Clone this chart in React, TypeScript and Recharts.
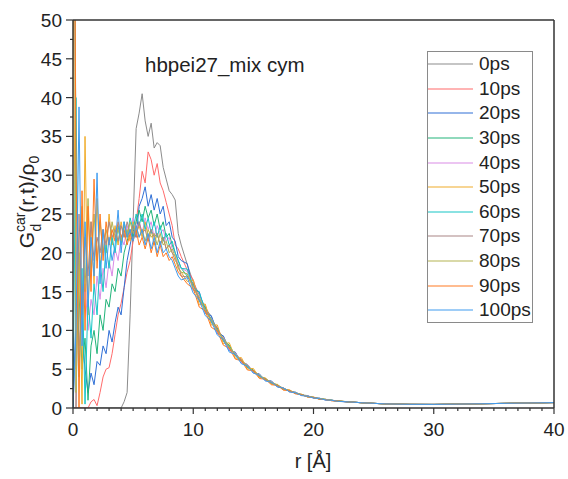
import { LineChart, Line, XAxis, YAxis, Legend } from "recharts";

const FONT = '"Liberation Sans", Arial, sans-serif';
const AXIS = "#333333";

// r grid (Å)
const R_EARLY = [0, 0.25, 0.5, 0.75, 1, 1.25, 1.5, 1.75, 2, 2.25, 2.5, 2.75, 3, 3.25, 3.5, 3.75, 4, 4.25, 4.5,
  4.75, 5, 5.25, 5.5, 5.75, 6, 6.25, 6.5, 6.75, 7, 7.25, 7.5, 7.75, 8, 8.25, 8.5, 8.75, 9];
const R_TAIL = [9.5, 10, 10.5, 11, 11.5, 12, 12.5, 13, 13.5, 14, 14.5, 15, 15.5, 16, 16.5, 17, 17.5, 18, 18.5,
  19, 19.5, 20, 20.5, 21, 21.5, 22];
const R_FAR = [23, 24, 25, 26, 28, 30, 32, 34, 36, 38, 40];
const G_FAR = [0.78, 0.68, 0.6, 0.53, 0.47, 0.46, 0.5, 0.55, 0.6, 0.65, 0.7];

// early part, r = 0 .. 9
const G0 = [0, 0, 0, 0, 0, 0, 0, 0, 0, 0, 0, 0, 0, 0, 0, 0, 0, 0.8, 2, 12, 24, 36, 38, 40.5, 37, 35, 36.7, 33.5,
  34.2, 33.8, 31, 29.5, 28, 27.5, 26.8, 22.5, 21];
const G10 = [0, 0, 0, 0, 0, 0, 0.8, 1.1, 0.3, 2, 4, 5, 5.2, 7, 9.5, 12, 13.5, 15.5, 17.5, 19, 21.5, 24, 27, 30.5,
  29, 33, 32, 30, 31.5, 29, 28, 26.5, 25, 23.5, 21, 20.5, 19.5];
const G20 = [0, 12, 20, 10, 5, 2, 4.5, 3, 6, 5.5, 8, 7, 10, 8.5, 11, 13, 12, 15.5, 19, 21, 23, 22, 26, 27, 28.5,
  26, 27.5, 25.5, 27, 25, 26, 23.5, 24, 22, 21.5, 19.5, 19];
const G30 = [110, 30, 15, 5, 9, 1, 8, 10, 7, 12, 10, 14, 13, 16, 15, 18, 17, 20, 21.5, 23, 22, 24, 25.5, 24, 26,
  24.5, 25.5, 23.5, 25, 23, 24, 22, 22.5, 21, 20, 19, 18];
const G40 = [130, 22, 8, 12, 16, 10, 14, 12, 17, 14, 18, 15.5, 19, 17, 20.5, 19, 22, 21, 23.5, 22, 24.5, 23, 24,
  22.5, 24.5, 23, 24, 22, 23.5, 22.5, 23, 21.5, 22, 20.5, 20, 18.5, 18];
const G50 = [60, 5, 20, 0.5, 35, 12, 24, 16, 27, 18, 23, 20, 25, 21, 23.5, 21, 24, 22, 23, 21.5, 24, 22.5, 23.5,
  22, 24, 22, 23, 21, 22.5, 21, 22, 20.5, 21, 20, 19.5, 18, 17.5];
const G60 = [0, 40, 4, 18, 0.5, 14, 9, 16, 12, 19, 15, 21, 18, 22, 20, 23.5, 21, 24, 22, 24.5, 23, 25, 23.5, 25,
  23, 24.5, 22.5, 24, 22, 23.5, 21.5, 22.5, 21, 21.5, 20, 19, 18];
const G70 = [200, 0, 25, 12, 22, 17, 24, 19, 22, 20, 23, 21, 24, 22, 23, 21.5, 23.5, 22, 24, 22.5, 23.5, 22, 24,
  22.5, 23, 21.5, 23, 22, 22.5, 21, 22, 20.5, 21, 20, 19, 18.5, 17];
const G80 = [150, 2, 18, 26, 15, 27, 17, 25, 19, 24, 20, 23, 21, 24, 22, 23, 21.5, 23.5, 22, 24, 22.5, 23.5, 22,
  23, 21.5, 23, 22, 22.5, 21, 22.5, 21, 21.5, 20, 20.5, 19.5, 18, 17.5];
const G90 = [90, 32, 0, 28, 10, 26, 15, 29.5, 18, 25, 19, 24, 21, 23, 21.5, 24, 22, 23, 21, 22.5, 21.5, 23, 21,
  22, 20.5, 22, 20, 21.5, 19.5, 21, 19.5, 20, 19, 19.5, 18.5, 17.5, 17];
const G100 = [0, 10, 38.8, 8, 24, 13, 22, 17, 30.3, 16, 23, 18, 22, 19, 21, 25.5, 20, 24, 22, 23, 21.5, 23.5, 22,
  23, 21, 22.5, 20.5, 22, 20, 21.5, 20, 20.5, 19.5, 19, 18, 17, 16.5];

// decay, r = 9.5 .. 22
const T0 = [18.5, 16.2, 14.6, 12.9, 11.8, 10, 9.2, 7.7, 7.1, 6, 5.6, 4.7, 4.3, 3.6, 3.4, 2.8, 2.6, 2.1, 2, 1.7,
  1.6, 1.3, 1.25, 1.05, 1, 0.85];
const T10 = [17.8, 16.5, 14, 13.2, 11.2, 10.4, 8.7, 8, 6.8, 6.3, 5.3, 4.9, 4.1, 3.8, 3.2, 3, 2.4, 2.3, 1.9, 1.75,
  1.45, 1.4, 1.15, 1.1, 0.95, 0.9];
const T20 = [18.6, 15.2, 15, 12.2, 11.9, 9.6, 9.3, 7.4, 7.2, 5.8, 5.6, 4.5, 4.4, 3.5, 3.5, 2.7, 2.6, 2.1, 2.05, 1.6,
  1.58, 1.28, 1.27, 1.03, 1.03, 0.87];
const T30 = [17, 16, 13.8, 13, 11, 10.3, 8.6, 8.1, 6.7, 6.2, 5.2, 4.9, 4, 3.8, 3.2, 3, 2.45, 2.25, 1.9, 1.75,
  1.45, 1.38, 1.15, 1.12, 0.97, 0.92];
const T40 = [17.6, 15.2, 14.5, 12.3, 11.6, 9.7, 9.1, 7.5, 7.1, 5.8, 5.6, 4.6, 4.3, 3.6, 3.4, 2.8, 2.6, 2.1, 2, 1.65,
  1.55, 1.3, 1.22, 1.06, 1, 0.87];
const T50 = [16.3, 16.5, 13.3, 13.4, 10.7, 10.7, 8.3, 8.4, 6.4, 6.5, 5, 5.1, 3.9, 3.9, 3.05, 3.05, 2.35, 2.35, 1.87,
  1.78, 1.43, 1.42, 1.13, 1.13, 0.95, 0.94];
const T60 = [17.9, 15.6, 14.9, 12.6, 11.5, 10, 8.9, 7.9, 6.9, 6, 5.4, 4.7, 4.2, 3.7, 3.3, 2.9, 2.5, 2.2, 1.95, 1.7,
  1.5, 1.35, 1.2, 1.1, 1, 0.9];
const T70 = [16.9, 15.9, 13.9, 12.7, 11.3, 10.2, 8.8, 7.7, 6.8, 6.1, 5.3, 4.8, 4.1, 3.7, 3.25, 2.9, 2.5, 2.2, 1.93,
  1.7, 1.5, 1.33, 1.2, 1.08, 0.99, 0.9];
const T80 = [17.3, 15.4, 14.3, 12.4, 11.4, 9.9, 9, 7.8, 7, 6, 5.5, 4.7, 4.25, 3.65, 3.35, 2.85, 2.55, 2.15, 1.98,
  1.68, 1.52, 1.32, 1.22, 1.08, 1.01, 0.89];
const T90 = [16, 15.4, 13, 12.5, 10.4, 9.9, 8.1, 7.7, 6.3, 6.1, 4.9, 4.8, 3.8, 3.7, 3, 2.9, 2.3, 2.25, 1.82,
  1.72, 1.42, 1.36, 1.12, 1.1, 0.94, 0.9];
const T100 = [16.8, 14.8, 13.9, 11.9, 11.2, 9.4, 8.8, 7.2, 6.9, 5.7, 5.4, 4.5, 4.2, 3.5, 3.3, 2.75, 2.55, 2.1, 1.95,
  1.62, 1.5, 1.3, 1.2, 1.05, 0.99, 0.87];

const SERIES = [
  { name: "0ps", color: "#8c8c8c", early: G0, tail: T0 },
  { name: "10ps", color: "#ff6b6b", early: G10, tail: T10 },
  { name: "20ps", color: "#2f6fd6", early: G20, tail: T20 },
  { name: "30ps", color: "#22b47a", early: G30, tail: T30 },
  { name: "40ps", color: "#d98ce6", early: G40, tail: T40 },
  { name: "50ps", color: "#f0ac2a", early: G50, tail: T50 },
  { name: "60ps", color: "#16c6c6", early: G60, tail: T60 },
  { name: "70ps", color: "#a98585", early: G70, tail: T70 },
  { name: "80ps", color: "#b3b352", early: G80, tail: T80 },
  { name: "90ps", color: "#ff7a22", early: G90, tail: T90 },
  { name: "100ps", color: "#3f9cf0", early: G100, tail: T100 },
];

const X_TICKS = Array.from({ length: 41 }, (_, i) => i);
const Y_TICKS = Array.from({ length: 21 }, (_, i) => i * 2.5);

const toPoints = (early: number[], tail: number[]) => [
  ...R_EARLY.map((r, i) => ({ r, v: early[i] })),
  ...R_TAIL.map((r, i) => ({ r, v: tail[i] })),
  ...R_FAR.map((r, i) => ({ r, v: G_FAR[i] })),
];

const BottomTick = ({ x, y, payload }: any) => {
  const major = payload.value % 10 === 0;
  return (
    <g>
      <line x1={x} x2={x} y1={y} y2={y + (major ? 6 : 3)} stroke={AXIS} strokeWidth={1.2} />
      {major && (
        <text x={x} y={y + 28} textAnchor="middle" fontSize={19} fontFamily={FONT} fill="#222">
          {payload.value}
        </text>
      )}
    </g>
  );
};

const TopTick = ({ x, y, payload }: any) => {
  const major = payload.value % 10 === 0;
  return <line x1={x} x2={x} y1={y} y2={y + (major ? 6 : 3)} stroke={AXIS} strokeWidth={1.2} />;
};

const LeftTick = ({ x, y, payload }: any) => {
  const major = payload.value % 5 === 0;
  return (
    <g>
      <line x1={x} x2={x - (major ? 7 : 3)} y1={y} y2={y} stroke={AXIS} strokeWidth={1.2} />
      {major && (
        <text x={x - 11} y={y + 7} textAnchor="end" fontSize={19} fontFamily={FONT} fill="#222">
          {payload.value}
        </text>
      )}
    </g>
  );
};

const RightTick = ({ x, y, payload }: any) => {
  const major = payload.value % 5 === 0;
  return <line x1={x} x2={x - (major ? 7 : 3)} y1={y} y2={y} stroke={AXIS} strokeWidth={1.2} />;
};

const LegendBox = () => (
  <div
    style={{
      boxSizing: "border-box",
      width: 106,
      height: 272,
      border: "1px solid #8a8a8a",
      background: "#fff",
      fontFamily: FONT,
      fontSize: 19,
      color: "#222",
    }}
  >
    {SERIES.map((s) => (
      <div key={s.name} style={{ display: "flex", alignItems: "center", height: 24.6 }}>
        <svg width={45} height={4} style={{ display: "block" }}>
          <line x1={0} x2={45} y1={2} y2={2} stroke={s.color} strokeWidth={1.2} />
        </svg>
        <span style={{ marginLeft: 6, lineHeight: "20px" }}>{s.name}</span>
      </div>
    ))}
  </div>
);

export default function App() {
  return (
    <div style={{ position: "relative", width: 568, height: 479, background: "#fff" }}>
      <style>{"body{margin:0;}"}</style>
      <LineChart width={568} height={479} margin={{ top: 0, right: 0, bottom: 0, left: 0 }}>
        <XAxis
          dataKey="r"
          type="number"
          domain={[0, 40]}
          ticks={X_TICKS}
          interval={0}
          height={71}
          tickSize={0}
          tickMargin={0}
          tickLine={false}
          tick={<BottomTick />}
          axisLine={{ stroke: AXIS, strokeWidth: 1.5 }}
          allowDataOverflow
        />
        <XAxis
          xAxisId="top"
          orientation="top"
          type="number"
          domain={[0, 40]}
          ticks={X_TICKS}
          interval={0}
          height={20}
          tickSize={0}
          tickMargin={0}
          tickLine={false}
          tick={<TopTick />}
          axisLine={{ stroke: AXIS, strokeWidth: 1.5 }}
        />
        <YAxis
          type="number"
          domain={[0, 50]}
          ticks={Y_TICKS}
          interval={0}
          width={73}
          tickSize={0}
          tickMargin={0}
          tickLine={false}
          tick={<LeftTick />}
          axisLine={{ stroke: AXIS, strokeWidth: 1.5 }}
          allowDataOverflow
        />
        <YAxis
          yAxisId="right"
          orientation="right"
          type="number"
          domain={[0, 50]}
          ticks={Y_TICKS}
          interval={0}
          width={14}
          tickSize={0}
          tickMargin={0}
          tickLine={false}
          tick={<RightTick />}
          axisLine={{ stroke: AXIS, strokeWidth: 1.5 }}
        />
        {SERIES.map((s) => (
          <Line
            key={s.name}
            name={s.name}
            data={toPoints(s.early, s.tail)}
            dataKey="v"
            type="linear"
            stroke={s.color}
            strokeWidth={1}
            dot={false}
            isAnimationActive={false}
          />
        ))}
        <Legend
          layout="vertical"
          align="center"
          verticalAlign="middle"
          content={() => <LegendBox />}
          wrapperStyle={{ left: 427, top: 51, width: 106, height: 272 }}
        />
      </LineChart>
      <svg
        width={568}
        height={479}
        style={{ position: "absolute", left: 0, top: 0, pointerEvents: "none" }}
        fontFamily={FONT}
      >
        <text x={145} y={72} fontSize={20.5} fill="#222">
          hbpei27_mix cym
        </text>
        <text x={313} y={468} textAnchor="middle" fontSize={20} fill="#222">
          r [Å]
        </text>
        <g transform="translate(34,202) rotate(-90)">
          <text textAnchor="middle" fontSize={21} fill="#222">
            G
            <tspan fontSize={14} dy={-9}>car</tspan>
            <tspan fontSize={14} dx={-19} dy={16}>d</tspan>
            <tspan dx={11} dy={-7}>(r,t)/ρ</tspan>
            <tspan fontSize={14} dy={5}>0</tspan>
          </text>
        </g>
      </svg>
    </div>
  );
}
